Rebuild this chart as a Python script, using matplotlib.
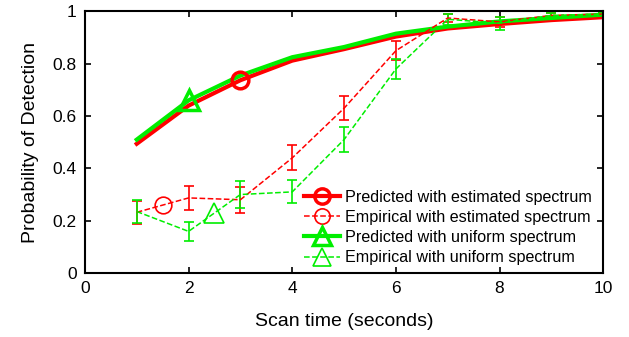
import numpy as np
import matplotlib
matplotlib.use('Agg')
import matplotlib.pyplot as plt

plt.rcParams['font.family'] = ['Liberation Sans', 'DejaVu Sans']

scan_time = np.arange(1, 11)

# predicted detection probability
pred_est = [0.494, 0.64, 0.737, 0.812, 0.856, 0.904, 0.935, 0.952, 0.967, 0.978]
pred_uni = [0.51, 0.66, 0.755, 0.825, 0.864, 0.915, 0.942, 0.962, 0.975, 0.988]

# empirical detection probability with error bars
emp_est = [0.232, 0.287, 0.28, 0.44, 0.63, 0.85, 0.975, 0.96, 0.985, 0.99]
emp_est_err = [0.044, 0.046, 0.05, 0.048, 0.046, 0.036, 0.015, 0.02, 0.01, 0.005]
emp_uni = [0.235, 0.159, 0.30, 0.31, 0.51, 0.78, 0.97, 0.955, 0.985, 0.99]
emp_uni_err = [0.045, 0.036, 0.05, 0.044, 0.048, 0.04, 0.02, 0.025, 0.01, 0.005]

red = '#ff0000'
green = '#00ee00'

fig = plt.figure(figsize=(6.29, 3.37), dpi=100)
ax = fig.add_axes([0.135, 0.19, 0.824, 0.776])

# empirical curves (dashed) with error bars
ax.errorbar(scan_time, emp_est, yerr=emp_est_err, color=red, ls='--', lw=1.1,
            capsize=3.8, elinewidth=1.2, capthick=1.2)
ax.errorbar(scan_time, emp_uni, yerr=emp_uni_err, color=green, ls='--', lw=1.1,
            capsize=3.8, elinewidth=1.2, capthick=1.2)
# markers sit mid-segment on the empirical curves
ax.plot((scan_time[0] + scan_time[1]) / 2, (emp_est[0] + emp_est[1]) / 2, 'o',
        mfc='none', mec=red, ms=12, mew=1.2)
ax.plot((scan_time[1] + scan_time[2]) / 2, (emp_uni[1] + emp_uni[2]) / 2, '^',
        mfc='none', mec=green, ms=14, mew=1.2)

# predicted curves (thick)
ax.plot(scan_time, pred_est, color=red, lw=3)
ax.plot(scan_time, pred_uni, color=green, lw=3)
ax.plot(scan_time[2], pred_est[2], 'o', mfc='none', mec=red, ms=12, mew=2.5)
ax.plot(scan_time[1], pred_uni[1], '^', mfc='none', mec=green, ms=15, mew=2.5)

# legend proxies
h1, = ax.plot([], [], color=red, lw=3, marker='o', mfc='none', ms=11, mew=2.5)
h2, = ax.plot([], [], color=red, lw=1.1, ls='--', marker='o', mfc='none', ms=11, mew=1.2)
h3, = ax.plot([], [], color=green, lw=3, marker='^', mfc='none', ms=13, mew=2.5)
h4, = ax.plot([], [], color=green, lw=1.1, ls='--', marker='^', mfc='none', ms=13, mew=1.2)
ax.legend([h1, h2, h3, h4],
          ['Predicted with estimated spectrum', 'Empirical with estimated spectrum',
           'Predicted with uniform spectrum', 'Empirical with uniform spectrum'],
          loc='lower right', frameon=False, fontsize=11.6, handlelength=2.2,
          handletextpad=0.3, labelspacing=0.32, borderaxespad=0.0,
          bbox_to_anchor=(0.99, 0.005))

ax.set_xlim(0, 10)
ax.set_ylim(0, 1)
ax.set_xticks(np.arange(0, 11, 2))
ax.set_yticks(np.arange(0, 1.01, 0.2))
ax.set_yticklabels(['0', '0.2', '0.4', '0.6', '0.8', '1'])
ax.tick_params(direction='in', top=True, right=True, labelsize=12.5, length=4,
               width=1.2, pad=6)
for s in ax.spines.values():
    s.set_linewidth(1.5)
ax.set_xlabel('Scan time (seconds)', fontsize=14, labelpad=12)
ax.set_ylabel('Probability of Detection', fontsize=14, labelpad=10)

fig.savefig('out.png', dpi=100)
